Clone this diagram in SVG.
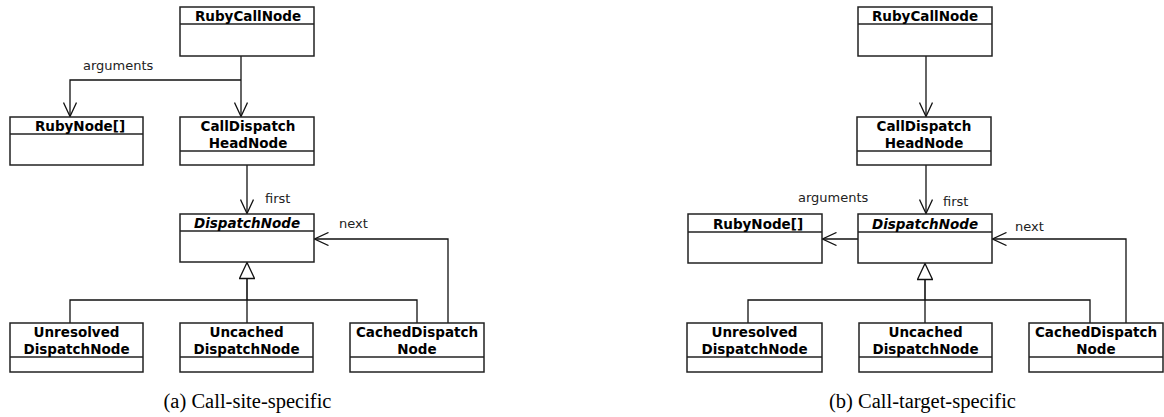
<svg xmlns="http://www.w3.org/2000/svg" width="1164" height="417" viewBox="0 0 1164 417">
<style>
.box{fill:#fff;stroke:#222;stroke-width:1.5}
.sep{stroke:#222;stroke-width:1.5}
.t{font-family:"DejaVu Sans",Verdana,sans-serif;font-size:13.5px;font-weight:bold;fill:#000;text-anchor:middle}
.ti{font-style:italic}
.lbl{font-family:"DejaVu Sans",Verdana,sans-serif;font-size:13px;fill:#222}
.cap{font-family:"Liberation Serif","Times New Roman",serif;font-size:20.5px;fill:#000;text-anchor:middle}
.c{fill:none;stroke:#111;stroke-width:1.3}
.ca{fill:none;stroke:#111;stroke-width:1.3;marker-end:url(#open)}
.cg{fill:none;stroke:#111;stroke-width:1.6;marker-end:url(#tri)}
</style>
<defs>
<marker id="open" viewBox="0 0 16 14" refX="15" refY="7" markerWidth="16" markerHeight="14" orient="auto" markerUnits="userSpaceOnUse">
<path d="M1,0.5 L15,7 L1,13.5" fill="none" stroke="#111" stroke-width="1.3"/>
</marker>
<marker id="tri" viewBox="0 0 18 16" refX="17" refY="8" markerWidth="18" markerHeight="16" orient="auto" markerUnits="userSpaceOnUse">
<path d="M1,0.5 L17,8 L1,15.5 Z" fill="#fff" stroke="#111" stroke-width="1.3"/>
</marker>
</defs>
<rect width="1164" height="417" fill="#fff"/>

<!-- (a) Call-site-specific -->
<g id="connectors-a">
<polyline class="c" points="241,56 241,80"/>
<polyline class="ca" points="241,80 70,80 70,116.5"/>
<polyline class="ca" points="241,80 241,116.5"/>
<polyline class="ca" points="247,165 247,213.5"/>
<polyline class="cg" points="247,300 247,262.5"/>
<polyline class="c" points="70,323 70,300 417,300 417,323"/>
<polyline class="c" points="247,300 247,323"/>
<polyline class="ca" points="448,323 448,239 314.5,239"/>
<text class="lbl" x="83" y="69.5">arguments</text>
<text class="lbl" x="265" y="203">first</text>
<text class="lbl" x="339" y="228">next</text>
</g>
<g id="a-RubyCallNode">
<rect class="box" x="180" y="7" width="134" height="49"/>
<line class="sep" x1="180" y1="24" x2="314" y2="24"/>
<text class="t" x="248" y="20.5">RubyCallNode</text>
</g>
<g id="a-RubyNodeArr">
<rect class="box" x="10" y="117" width="133" height="48"/>
<line class="sep" x1="10" y1="134" x2="143" y2="134"/>
<text class="t" x="80" y="130.5">RubyNode[]</text>
</g>
<g id="a-CallDispatchHeadNode">
<rect class="box" x="180" y="117" width="134" height="48"/>
<line class="sep" x1="180" y1="151" x2="314" y2="151"/>
<text class="t" x="248" y="130.5">CallDispatch</text>
<text class="t" x="248" y="147.5">HeadNode</text>
</g>
<g id="a-DispatchNode">
<rect class="box" x="180" y="214" width="134" height="48"/>
<line class="sep" x1="180" y1="231" x2="314" y2="231"/>
<text class="t ti" x="247" y="228">DispatchNode</text>
</g>
<g id="a-UnresolvedDispatchNode">
<rect class="box" x="10" y="323" width="133" height="49"/>
<line class="sep" x1="10" y1="357" x2="143" y2="357"/>
<text class="t" x="76.5" y="337">Unresolved</text>
<text class="t" x="76.5" y="354">DispatchNode</text>
</g>
<g id="a-UncachedDispatchNode">
<rect class="box" x="180" y="323" width="133" height="49"/>
<line class="sep" x1="180" y1="357" x2="313" y2="357"/>
<text class="t" x="246.5" y="337">Uncached</text>
<text class="t" x="246.5" y="354">DispatchNode</text>
</g>
<g id="a-CachedDispatchNode">
<rect class="box" x="350" y="323" width="134" height="49"/>
<line class="sep" x1="350" y1="357" x2="484" y2="357"/>
<text class="t" x="417" y="337">CachedDispatch</text>
<text class="t" x="417" y="354">Node</text>
</g>
<text class="cap" x="247.5" y="408">(a) Call-site-specific</text>

<!-- (b) Call-target-specific -->
<g id="connectors-b">
<polyline class="ca" points="926,56 926,116.5"/>
<polyline class="ca" points="926,165 926,213.5"/>
<polyline class="ca" points="858,239 822.5,239"/>
<polyline class="cg" points="925,300 925,263.5"/>
<polyline class="c" points="748,323 748,300 1090,300 1090,323"/>
<polyline class="c" points="925,300 925,323"/>
<polyline class="ca" points="1126,323 1126,239 992.5,239"/>
<text class="lbl" x="798" y="202">arguments</text>
<text class="lbl" x="943" y="206">first</text>
<text class="lbl" x="1015" y="231">next</text>
</g>
<g id="b-RubyCallNode">
<rect class="box" x="858" y="7" width="134" height="49"/>
<line class="sep" x1="858" y1="24" x2="992" y2="24"/>
<text class="t" x="925" y="20.5">RubyCallNode</text>
</g>
<g id="b-CallDispatchHeadNode">
<rect class="box" x="857" y="117" width="134" height="48"/>
<line class="sep" x1="857" y1="151" x2="991" y2="151"/>
<text class="t" x="924" y="130.5">CallDispatch</text>
<text class="t" x="924" y="147.5">HeadNode</text>
</g>
<g id="b-RubyNodeArr">
<rect class="box" x="688" y="214" width="134" height="49"/>
<line class="sep" x1="688" y1="232" x2="822" y2="232"/>
<text class="t" x="758" y="228.5">RubyNode[]</text>
</g>
<g id="b-DispatchNode">
<rect class="box" x="858" y="214" width="134" height="49"/>
<line class="sep" x1="858" y1="232" x2="992" y2="232"/>
<text class="t ti" x="925" y="228.5">DispatchNode</text>
</g>
<g id="b-UnresolvedDispatchNode">
<rect class="box" x="687" y="323" width="135" height="49"/>
<line class="sep" x1="687" y1="357" x2="822" y2="357"/>
<text class="t" x="754.5" y="337">Unresolved</text>
<text class="t" x="754.5" y="354">DispatchNode</text>
</g>
<g id="b-UncachedDispatchNode">
<rect class="box" x="859" y="323" width="133" height="49"/>
<line class="sep" x1="859" y1="357" x2="992" y2="357"/>
<text class="t" x="925.5" y="337">Uncached</text>
<text class="t" x="925.5" y="354">DispatchNode</text>
</g>
<g id="b-CachedDispatchNode">
<rect class="box" x="1029" y="323" width="134" height="49"/>
<line class="sep" x1="1029" y1="357" x2="1163" y2="357"/>
<text class="t" x="1096" y="337">CachedDispatch</text>
<text class="t" x="1096" y="354">Node</text>
</g>
<text class="cap" x="922.5" y="408">(b) Call-target-specific</text>
</svg>
